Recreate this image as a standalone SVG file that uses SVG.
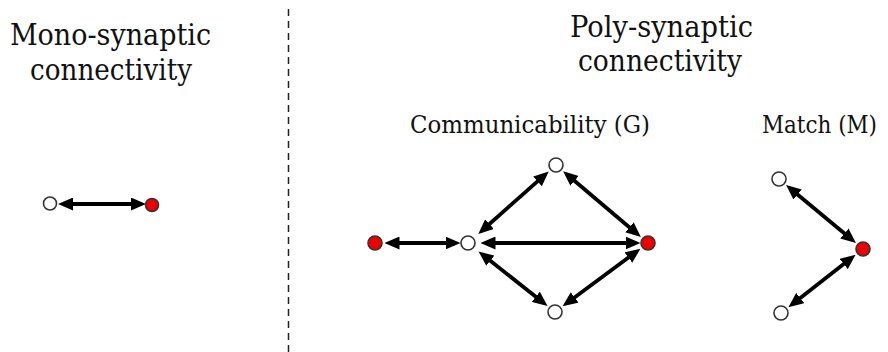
<svg xmlns="http://www.w3.org/2000/svg" width="888" height="352" viewBox="0 0 888 352">
  <style>
    text { font-family: "DejaVu Serif", "Liberation Serif", serif; fill: #111111; }
    .title { font-size: 29px; }
    .sub { font-size: 24px; }
    .node-w { fill: #ffffff; stroke: #333333; stroke-width: 1.6; }
    .node-r { fill: #ee0000; stroke: #333333; stroke-width: 1.6; }
    .edge { stroke: #000000; stroke-width: 3.8; fill: none; marker-start: url(#head); marker-end: url(#head); }
    .divider { stroke: #222222; stroke-width: 1.5; stroke-dasharray: 7 5; }
  </style>
  <defs>
    <marker id="head" markerUnits="userSpaceOnUse" markerWidth="15" markerHeight="13" refX="6" refY="6.5" orient="auto-start-reverse">
      <path d="M0,0 L15,6.5 L0,13 z" fill="#000000"/>
    </marker>
  </defs>

  <rect width="888" height="352" fill="#ffffff"/>

  <!-- headings -->
  <text class="title" x="10" y="45" textLength="201" lengthAdjust="spacingAndGlyphs">Mono-synaptic</text>
  <text class="title" x="30" y="80" textLength="162" lengthAdjust="spacingAndGlyphs">connectivity</text>
  <text class="title" x="570" y="37" textLength="183" lengthAdjust="spacingAndGlyphs">Poly-synaptic</text>
  <text class="title" x="578" y="71" textLength="164" lengthAdjust="spacingAndGlyphs">connectivity</text>
  <text class="sub" x="410" y="133" textLength="240" lengthAdjust="spacingAndGlyphs">Communicability (G)</text>
  <text class="sub" x="762" y="133" font-size="22.5" textLength="115" lengthAdjust="spacingAndGlyphs">Match (M)</text>

  <!-- section divider -->
  <line class="divider" x1="288.5" y1="9" x2="288.5" y2="352"/>

  <!-- connectors -->
  <g id="connectors">
    <line class="edge" x1="67" y1="204" x2="137" y2="204"/>
    <line class="edge" x1="393.5" y1="243" x2="451.5" y2="243"/>
    <line class="edge" x1="489.5" y1="243" x2="631.5" y2="243"/>
    <line class="edge" x1="485" y1="228" x2="542" y2="177.4"/>
    <line class="edge" x1="570" y1="177" x2="634" y2="231.2"/>
    <line class="edge" x1="485.6" y1="257" x2="540.5" y2="300.5"/>
    <line class="edge" x1="569.8" y1="301" x2="633.2" y2="254"/>
    <line class="edge" x1="793" y1="190.7" x2="849" y2="237.3"/>
    <line class="edge" x1="795.5" y1="301.7" x2="848.5" y2="260.3"/>
  </g>

  <!-- mono-synaptic pair -->
  <g id="mono-a"><circle class="node-w" cx="50" cy="203.5" r="6.5"/></g>
  <g id="mono-b"><circle class="node-r" cx="152" cy="205" r="6.5"/></g>

  <!-- communicability graph -->
  <g id="g-source"><circle class="node-r" cx="375" cy="243" r="7"/></g>
  <g id="g-hub"><circle class="node-w" cx="468" cy="243" r="7"/></g>
  <g id="g-top"><circle class="node-w" cx="556" cy="165" r="7"/></g>
  <g id="g-bottom"><circle class="node-w" cx="555" cy="312" r="7"/></g>
  <g id="g-target"><circle class="node-r" cx="648" cy="243" r="7"/></g>

  <!-- match graph -->
  <g id="m-top"><circle class="node-w" cx="779" cy="179" r="7"/></g>
  <g id="m-center"><circle class="node-r" cx="863" cy="249" r="7"/></g>
  <g id="m-bottom"><circle class="node-w" cx="781" cy="313" r="7"/></g>
</svg>
